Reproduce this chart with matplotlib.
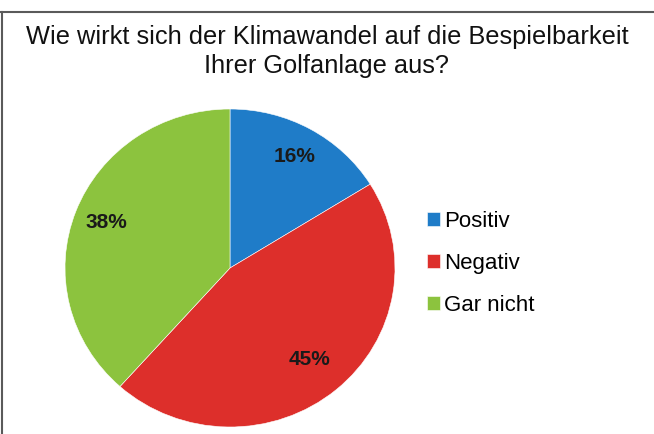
import matplotlib.pyplot as plt
from matplotlib.lines import Line2D

TITLE_LINES = ["Wie wirkt sich der Klimawandel auf die Bespielbarkeit",
               "Ihrer Golfanlage aus?"]
categories = ["Positiv", "Negativ", "Gar nicht"]
shares = [16, 45, 38]
colors = ["#1f7cc8", "#dd2f2b", "#8cc33e"]

plt.rcParams["font.family"] = ["Liberation Sans", "DejaVu Sans"]

W, H = 654, 434
fig = plt.figure(figsize=(W / 100, H / 100), dpi=100)
fig.patch.set_facecolor("white")

# pie centre and radii in pixels (slightly wider than tall, as in the source)
cx, cy, rx, ry = 230, 268, 165, 159
ax = fig.add_axes([(cx - rx) / W, (H - cy - ry) / H, 2 * rx / W, 2 * ry / H])

wedges, _, autotexts = ax.pie(
    shares,
    colors=colors,
    startangle=90,
    counterclock=False,
    autopct=lambda p: f"{round(p * sum(shares) / 100):d}%",
    pctdistance=0.8,
    wedgeprops=dict(edgecolor="#ffffff", linewidth=0.4),
    textprops=dict(fontsize=15, fontweight="bold", color="#1a1a1a"),
)
# the big slice's label sits a bit closer to the centre
x, y = autotexts[1].get_position()
autotexts[1].set_position((x * 0.75 / 0.8, y * 0.75 / 0.8))
ax.set_aspect("auto")
ax.set_xlim(-1, 1)
ax.set_ylim(-1, 1)
ax.axis("off")

# title, two lines placed on their baselines
for line, base in zip(TITLE_LINES, [44, 73]):
    fig.text(0.5, 1 - base / H, line, ha="center", va="baseline",
             fontsize=18.3, color="#111111")

fig.legend(
    wedges,
    categories,
    loc="upper left",
    bbox_to_anchor=(427 / W, 1 - 211 / H),
    frameon=False,
    fontsize=16,
    handlelength=0.6,
    handleheight=0.6,
    handletextpad=0.15,
    labelspacing=0.95,
    borderpad=0,
    borderaxespad=0,
)

# partial frame seen in the source (top and left edges)
fig.add_artist(Line2D([0, 1], [1 - 12 / H, 1 - 12 / H], transform=fig.transFigure,
                      color="#5a5a5a", linewidth=1.5))
fig.add_artist(Line2D([1.5 / W, 1.5 / W], [0, 1 - 12 / H], transform=fig.transFigure,
                      color="#5a5a5a", linewidth=1.5))

fig.savefig("out.png", dpi=100)
